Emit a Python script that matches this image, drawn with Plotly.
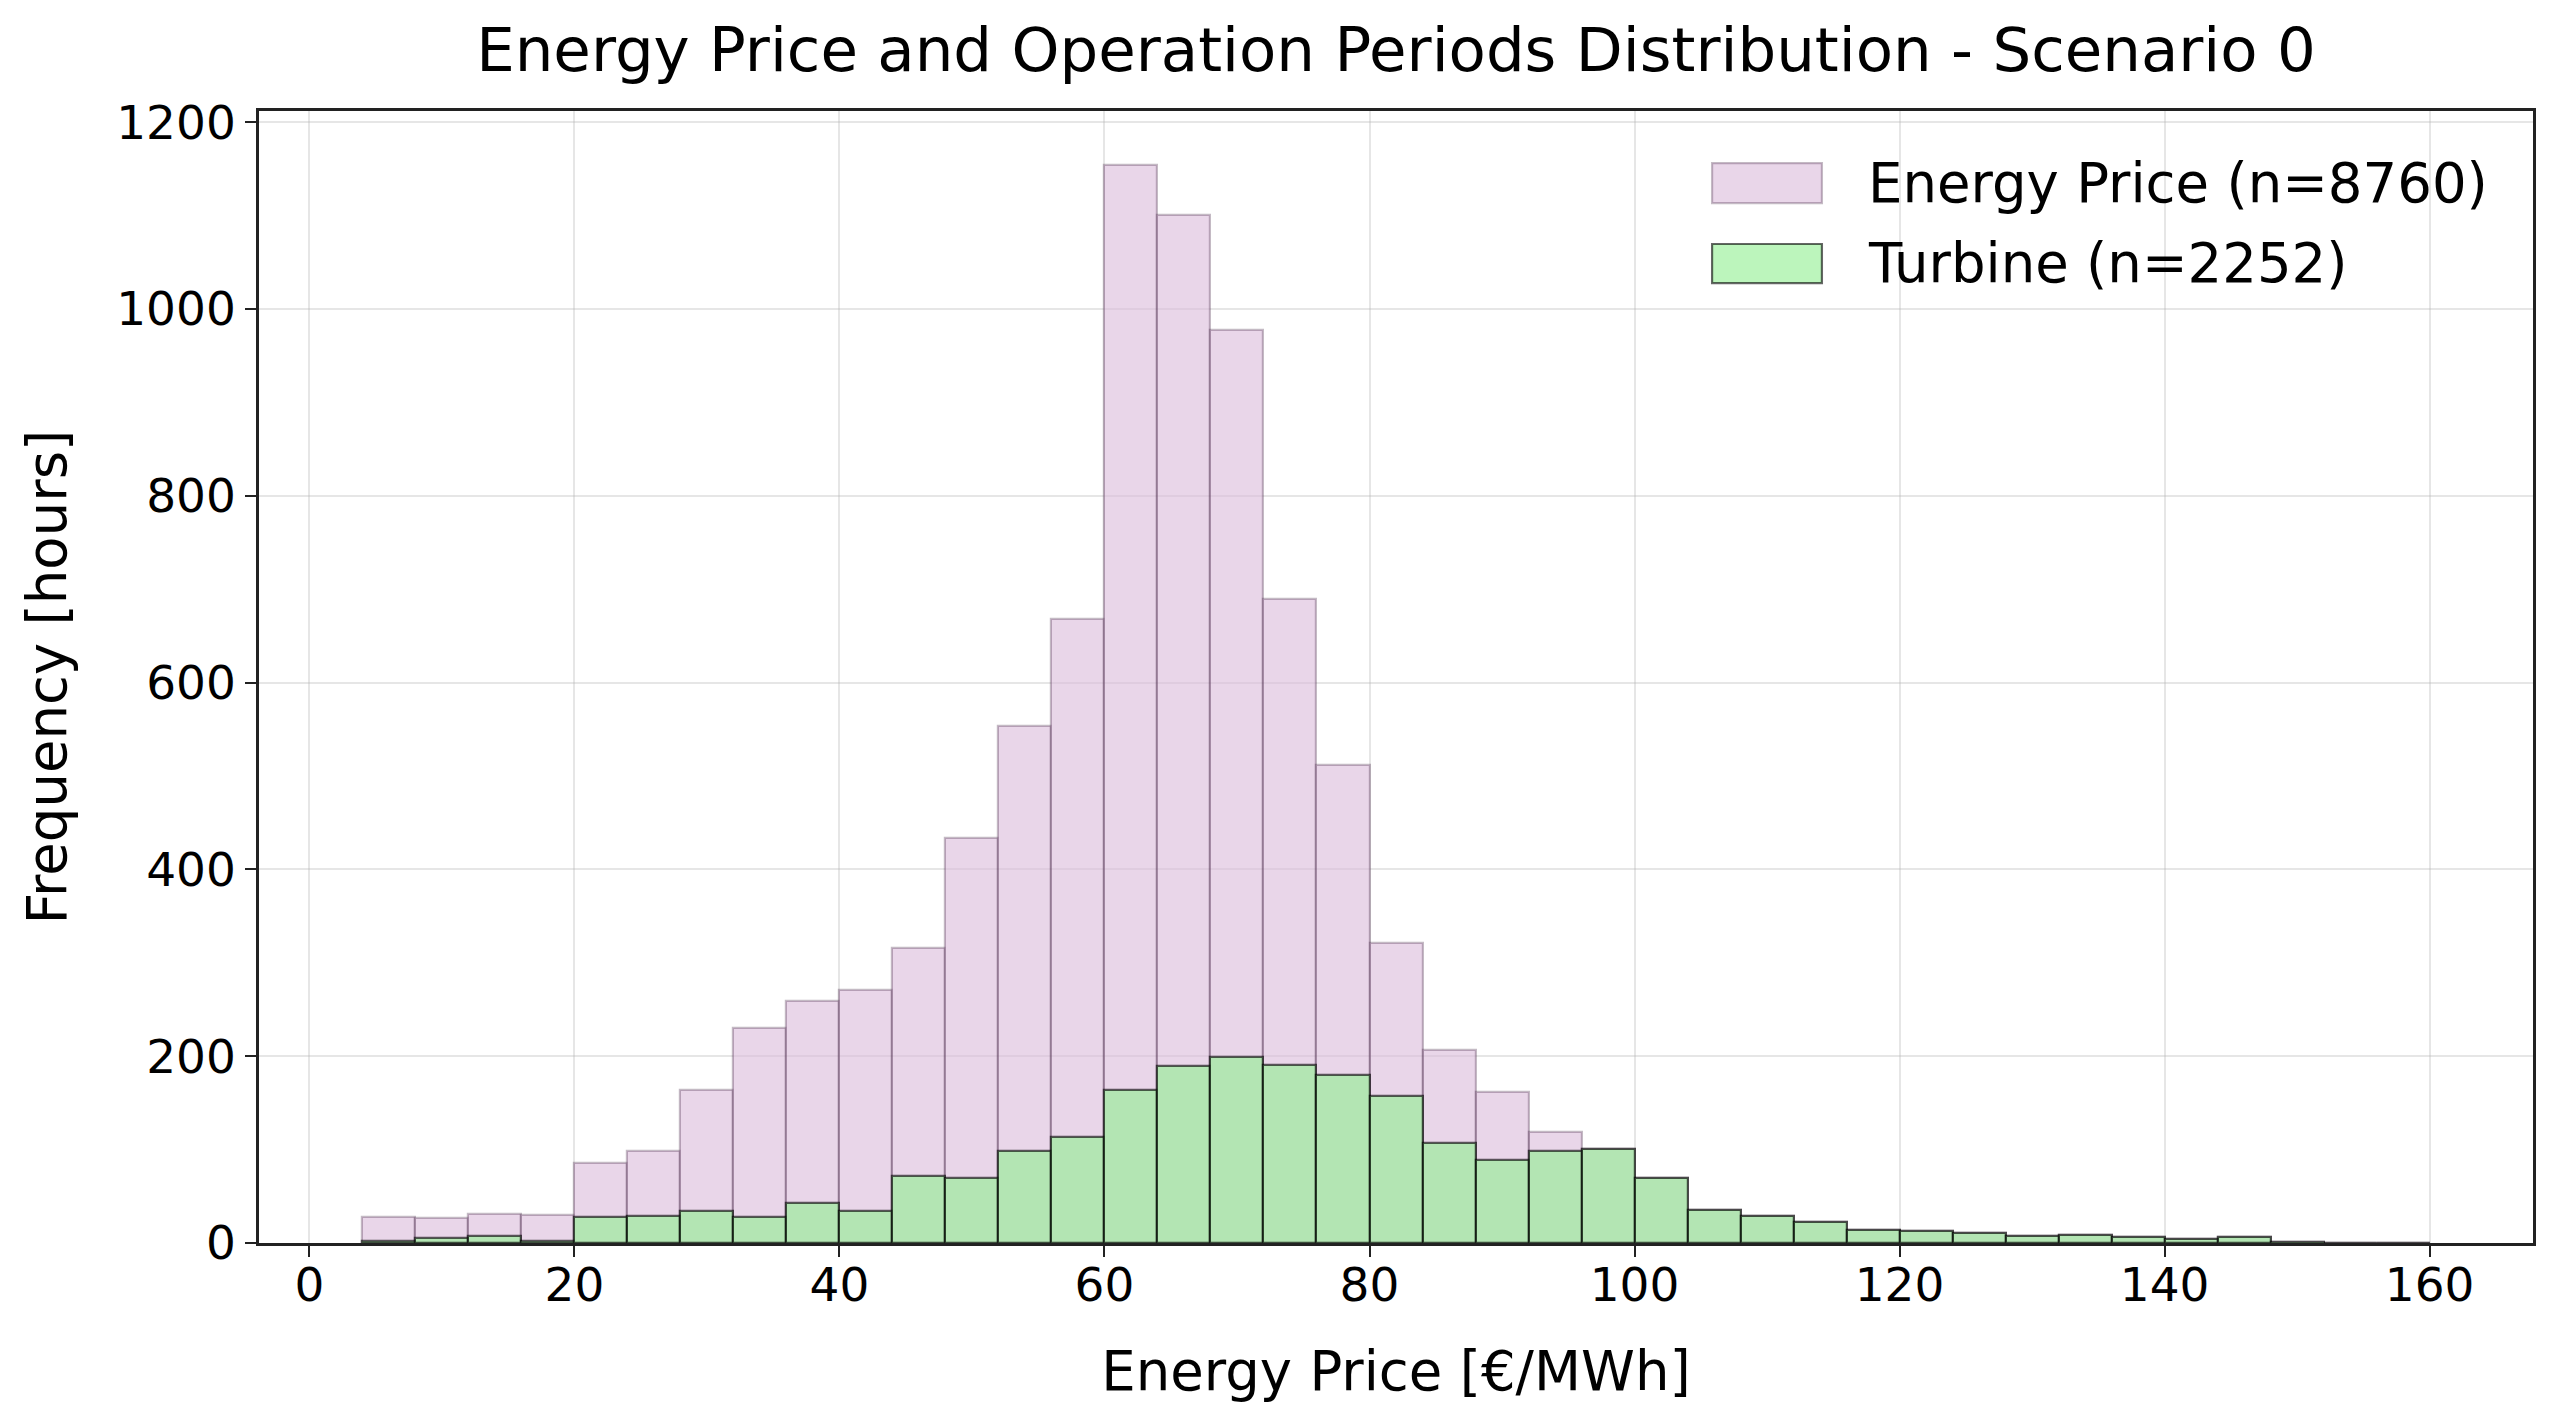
import plotly.graph_objects as go

# ---- data ----
bin_left = [4, 8, 12, 16, 20, 24, 28, 32, 36, 40, 44, 48, 52, 56, 60, 64, 68, 72, 76,
            80, 84, 88, 92, 96, 100, 104, 108, 112, 116, 120, 124, 128, 132, 136, 140,
            144, 148, 152, 156]
bin_width = 4

energy_counts = [28, 27, 31, 30, 86, 98, 164, 230, 259, 271, 316, 434, 554, 668, 1154,
                 1101, 977, 689, 512, 321, 207, 162, 119, 101, 70, 35, 29, 22, 14, 13,
                 11, 7, 9, 6, 4, 6, 1, 0, 0]
turbine_counts = [2, 5, 7, 2, 28, 29, 34, 28, 43, 34, 72, 70, 98, 113, 164, 190, 199,
                  191, 180, 157, 107, 89, 98, 101, 70, 35, 29, 22, 14, 13, 11, 7, 9, 6,
                  4, 6, 1, 0, 0]

series_names = ["Energy Price (n=8760)", "Turbine (n=2252)"]
x_ticks = [0, 20, 40, 60, 80, 100, 120, 140, 160]
y_ticks = [0, 200, 400, 600, 800, 1000, 1200]

title_text = "Energy Price and Operation Periods Distribution - Scenario 0"
x_label = "Energy Price [€/MWh]"
y_label = "Frequency [hours]"

# ---- styles ----
FONT = "DejaVu Sans"
pink_fill = "rgba(218,186,218,0.6)"
pink_line = "rgba(70,40,70,0.32)"
green_fill = "rgba(144,238,144,0.6)"
green_line = "rgba(0,0,0,0.62)"

centers = [b + bin_width / 2 for b in bin_left]

fig = go.Figure()
fig.add_trace(go.Bar(
    x=centers, y=energy_counts, width=bin_width, name=series_names[0],
    marker=dict(color=pink_fill, line=dict(color=pink_line, width=2.2)),
    showlegend=False,
))
fig.add_trace(go.Bar(
    x=centers, y=turbine_counts, width=bin_width, name=series_names[1],
    marker=dict(color=green_fill, line=dict(color=green_line, width=2.2)),
    showlegend=False,
))

axis_common = dict(
    ticks="outside", ticklen=11, tickwidth=2.2, tickcolor="#222",
    showline=True, linecolor="#222", linewidth=2.5, mirror=True,
    showgrid=True, gridcolor="rgba(176,176,176,0.32)", gridwidth=2.2,
    zeroline=False, tickfont=dict(family=FONT, size=47, color="black"),
)

fig.update_layout(
    width=2554, height=1413,
    margin=dict(l=259, r=21, t=111, b=170),
    paper_bgcolor="white", plot_bgcolor="white",
    barmode="overlay", bargap=0,
    font=dict(family=FONT, color="black"),
    title=dict(text=title_text, x=0.5, xref="paper", xanchor="center",
               y=1 - 50 / 1413, yref="container", yanchor="middle",
               font=dict(family=FONT, size=61, color="black")),
    xaxis=dict(range=[-3.8, 167.8], tickvals=x_ticks, ticklabelstandoff=-12,
               title=dict(text=x_label, standoff=41,
                          font=dict(family=FONT, size=54.5, color="black")),
               **axis_common),
    yaxis=dict(range=[0, 1212], tickvals=y_ticks, ticklabelstandoff=0,
               title=dict(text=y_label, standoff=33,
                          font=dict(family=FONT, size=54.5, color="black")),
               **axis_common),
)

# ---- legend (drawn as patches + text, upper right, no frame) ----
legend_rows = [
    dict(fill=pink_fill, line=pink_line, y0=0.9187, y1=0.954, ty=0.9364),
    dict(fill=green_fill, line="rgba(0,0,0,0.6)", y0=0.848, y1=0.8825, ty=0.8657),
]
for name, row in zip(series_names, legend_rows):
    fig.add_shape(type="rect", xref="paper", yref="paper",
                  x0=0.639, x1=0.6873, y0=row["y0"], y1=row["y1"],
                  fillcolor=row["fill"], line=dict(color=row["line"], width=2.2))
    fig.add_annotation(xref="paper", yref="paper", x=0.7066, y=row["ty"],
                       xanchor="left", yanchor="middle", showarrow=False,
                       text=name, font=dict(family=FONT, size=54.5, color="black"))

fig.write_html("out.html",
               config={"displayModeBar": False},
               post_script="document.body.style.margin='0px';"
                           "document.body.style.overflow='hidden';")
